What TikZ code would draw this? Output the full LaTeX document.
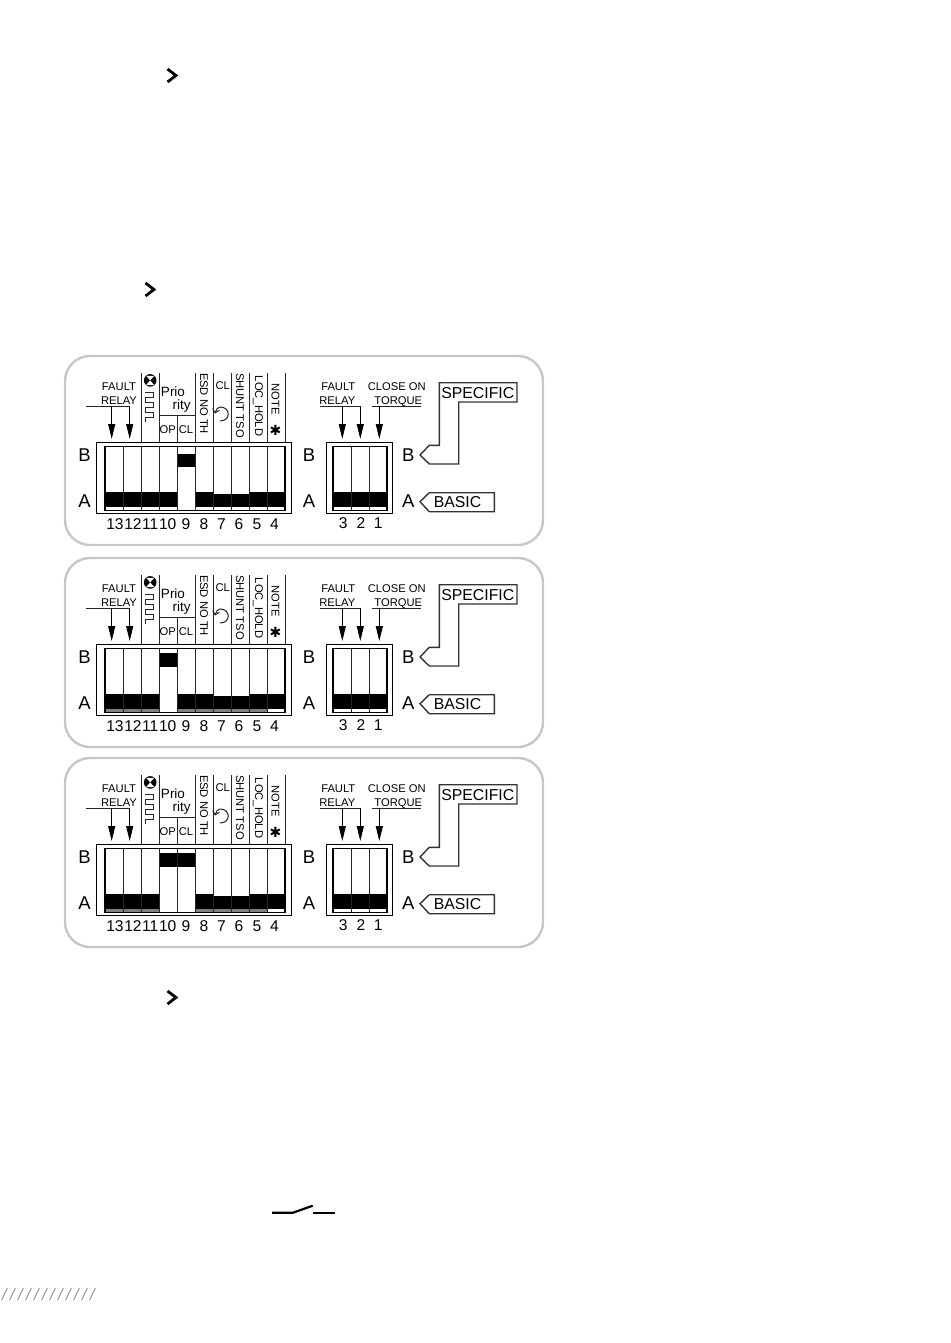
\documentclass[tikz,border=0pt]{standalone}
\usepackage{fontspec}
\setmainfont{Liberation Sans}
\newfontfamily\symbolfont{DejaVu Sans}
\usepackage{xcolor}
\usetikzlibrary{arrows.meta,positioning}

\begin{document}
\begin{tikzpicture}[x=1pt, y=-1pt]
    % Define styles
    \tikzstyle{panelframe} = [draw=black!22, line width=2.4pt, rounded corners=25pt]
    \tikzstyle{box} = [draw=black, line width=1.1pt]
    \tikzstyle{thin} = [draw=black!85, line width=1pt]
    \tikzstyle{arrow} = [draw=black, line width=1pt, -{Triangle[length=15pt,width=7pt]}]
    \tikzstyle{small} = [inner sep=0pt, font=\fontsize{11.2}{12}\selectfont]
    \tikzstyle{vertical} = [inner sep=0pt, rotate=-90, font=\fontsize{11.2}{12}\selectfont]
    \tikzstyle{number} = [inner sep=0pt, font=\fontsize{15.6}{16}\selectfont]
    \tikzstyle{side} = [inner sep=0pt, font=\fontsize{18.5}{19}\selectfont]
    \tikzstyle{tag} = [inner sep=0pt, font=\fontsize{15.8}{16}\selectfont]
    \tikzstyle{chevron} = [draw=black, line width=2.8pt]

    \useasboundingbox (0,0) rectangle (950,1343);

    % Chevrons
    \draw [chevron] (167.5,69) -- (176,75.5) -- (167.5,82);
    \draw [chevron] (145.5,283) -- (154,289.5) -- (145.5,296);
    \draw [chevron] (167.5,991) -- (176,997.5) -- (167.5,1004);

    % Panels
    \foreach \dy/\p/\stripcolor/\raised/\raisedy in {0/a/white/{177}/453.7, 202/b/black!50/{159}/451.3, 402/c/black!50/{159,177}/451.3} {
    \begin{scope}[shift={(0,\dy)}]
        \draw [panelframe] (65,356) rectangle (543,545);

        % Left switch block
        \fill [\stripcolor] (105,506) rectangle (267,510);
        \foreach \xc/\ytop in {105/492.3, 123/492.3, 141/492.3, 159/492.3, 177/492.3, 195/492.3, 213/494, 231/494, 249/492.3, 267/492.3}
            \fill [black] (\xc,\ytop) rectangle (\xc+18,506.5);
        \foreach \xc in \raised {
            \fill [white] (\xc,446.3) rectangle (\xc+18,510.3);
            \fill [black] (\xc,\raisedy) rectangle (\xc+18,\raisedy+13.5);
        }
        \draw [box] (96.3,442.3) rectangle (291.3,513.3);
        \draw [box] (105,446.3) rectangle (285,510.3);
        \foreach \xc in {123,141,159,177,195,213,231,249,267}
            \draw [thin] (\xc,446.3) -- (\xc,510.3);

        % Column rules above the block
        \foreach \xc in {141,159,195,213,231,249,267,285}
            \draw [thin] (\xc,373) -- (\xc,442.3);
        \draw [thin] (177,415.7) -- (177,442.3);
        \draw [thin] (159,415.7) -- (195,415.7);

        % Fault relay, left
        \node [small] (faultl\p) at (119,387) {FAULT};
        \node [small, below=5.4pt of faultl\p] (relayl\p) {RELAY};
        \coordinate (busl\p) at (86,406);
        \coordinate (topa\p) at (111.7,406);
        \coordinate (tipa\p) at (111.7,439);
        \coordinate (topb\p) at (129.7,406);
        \coordinate (tipb\p) at (129.7,439);
        \draw [thin] (busl\p) -- (topb\p);
        \draw [arrow] (topa\p) -- (tipa\p);
        \draw [arrow] (topb\p) -- (tipb\p);

        % Fault symbol and pulses
        \fill [black] (150.2,380.4) circle (6.3);
        \fill [white] (150.2,380.4) -- (146.2,375.8) -- (154.2,375.8) -- cycle;
        \fill [white] (150.2,380.4) -- (146.2,385) -- (154.2,385) -- cycle;
        \draw [thin] (145,392) -- (153,392) -- (153,397) -- (145,397) -- (145,402) -- (153,402) -- (153,407) -- (145,407) -- (145,412) -- (153,412) -- (153,417) -- (145,417) -- (145,421.5);

        % Priority
        \node [inner sep=0pt, font=\fontsize{13.5}{14}\selectfont] (prio\p) at (173,391.7) {Prio};
        \node [inner sep=0pt, font=\fontsize{13.5}{14}\selectfont] (rity\p) at (181.7,406) {rity};
        \node [small] (op\p) at (167.7,430) {OP};
        \node [small] (cl\p) at (186,430) {CL};

        % Rotated labels
        \node [vertical] (esd\p) at (204,403.5) {ESD NO TH};
        \node [small] (close\p) at (222.7,386) {CL};
        \coordinate (turnstart\p) at (220,421);
        \coordinate (turnend\p) at (215,413.5);
        \draw [thin, -{Straight Barb[length=3.5pt,width=7pt]}] (turnstart\p) .. controls (231,421) and (231,407) .. (220,407) .. controls (218,407) and (216,409.5) .. (turnend\p);
        \node [vertical] (shunt\p) at (240,405.5) {SHUNT TSO};
        \node [vertical] (hold\p) at (258,406) {LOC\_HOLD};
        \node [vertical] (note\p) at (275.5,399) {NOTE};
        \node [inner sep=0pt, font=\symbolfont\fontsize{14}{14}\selectfont] (star\p) at (275.5,430) {✱};

        % Numbers
        \node [number] (n13\p) at (115,524) {13};
        \node [number, right=0.2pt of n13\p] (n12\p) {12};
        \node [number, right=0.2pt of n12\p] (n11\p) {11};
        \node [number, right=0.2pt of n11\p] (n10\p) {10};
        \node [number] (n9\p) at (186,524) {9};
        \node [number] (n8\p) at (204,524) {8};
        \node [number] (n7\p) at (221.5,524) {7};
        \node [number] (n6\p) at (239,524) {6};
        \node [number] (n5\p) at (257,524) {5};
        \node [number] (n4\p) at (274.5,524) {4};

        % Side letters
        \node [side] (bl\p) at (84.5,455.3) {B};
        \node [side] (al\p) at (84.5,500.7) {A};
        \node [side] (bm\p) at (309,455.3) {B};
        \node [side] (am\p) at (309,500.7) {A};
        \node [side] (br\p) at (408.3,455.3) {B};
        \node [side] (ar\p) at (408.3,500.7) {A};

        % Right switch block
        \fill [black] (333,492.3) rectangle (387,506.5);
        \draw [box] (326.3,442.3) rectangle (392.3,513.3);
        \draw [box] (333,446.3) rectangle (387,510.3);
        \foreach \xc in {351,369}
            \draw [thin] (\xc,446.3) -- (\xc,510.3);
        \node [number] (n3\p) at (343.3,523.5) {3};
        \node [number] (n2\p) at (361,523.5) {2};
        \node [number] (n1\p) at (378.3,523.5) {1};

        % Fault relay and close on torque, right
        \node [small] (faultr\p) at (338.3,387) {FAULT};
        \node [small, below=5.4pt of faultr\p, xshift=-1pt] (relayr\p) {RELAY};
        \node [small] (closeon\p) at (396.7,387) {CLOSE ON};
        \node [small, below=5.4pt of closeon\p, xshift=1.6pt] (torque\p) {TORQUE};
        \coordinate (busr\p) at (320,406);
        \coordinate (topc\p) at (342.3,406);
        \coordinate (tipc\p) at (342.3,439);
        \coordinate (topd\p) at (360.3,406);
        \coordinate (tipd\p) at (360.3,439);
        \coordinate (buse\p) at (371.7,406);
        \coordinate (topf\p) at (379.3,406);
        \coordinate (tipf\p) at (379.3,439);
        \coordinate (ende\p) at (421,406);
        \draw [thin] (busr\p) -- (topd\p);
        \draw [thin] (buse\p) -- (ende\p);
        \draw [arrow] (topc\p) -- (tipc\p);
        \draw [arrow] (topd\p) -- (tipd\p);
        \draw [arrow] (topf\p) -- (tipf\p);

        % Specific and basic tags
        \draw [draw=black!80, line width=1.4pt] (439.3,382.7) -- (517,382.7) -- (517,402) -- (458.7,402) -- (458.7,464) -- (429.3,464) -- (420,455) -- (429.3,445.3) -- (439.3,445.3) -- cycle;
        \node [tag] (specific\p) at (477.8,393.2) {SPECIFIC};
        \draw [draw=black!80, line width=1.4pt] (420,501.7) -- (429.3,492.7) -- (494.3,492.7) -- (494.3,511.7) -- (429.3,511.7) -- cycle;
        \node [tag] (basic\p) at (457.5,501.9) {BASIC};
    \end{scope}
    }

    % Switch symbol
    \coordinate (swa) at (272,1212.7);
    \coordinate (swb) at (293,1212.7);
    \coordinate (swc) at (312.7,1205.7);
    \coordinate (swd) at (313,1212.7);
    \coordinate (swe) at (335,1212.7);
    \draw [draw=black, line width=2.2pt] (swa) -- (swb) -- (swc);
    \draw [draw=black, line width=2.2pt] (swd) -- (swe);

    % Hatch
    \foreach \i in {0,...,11}
        \draw [draw=black!45, line width=0.9pt] (1.7+8*\i,1300) -- (7.3+8*\i,1288);
\end{tikzpicture}
\end{document}
